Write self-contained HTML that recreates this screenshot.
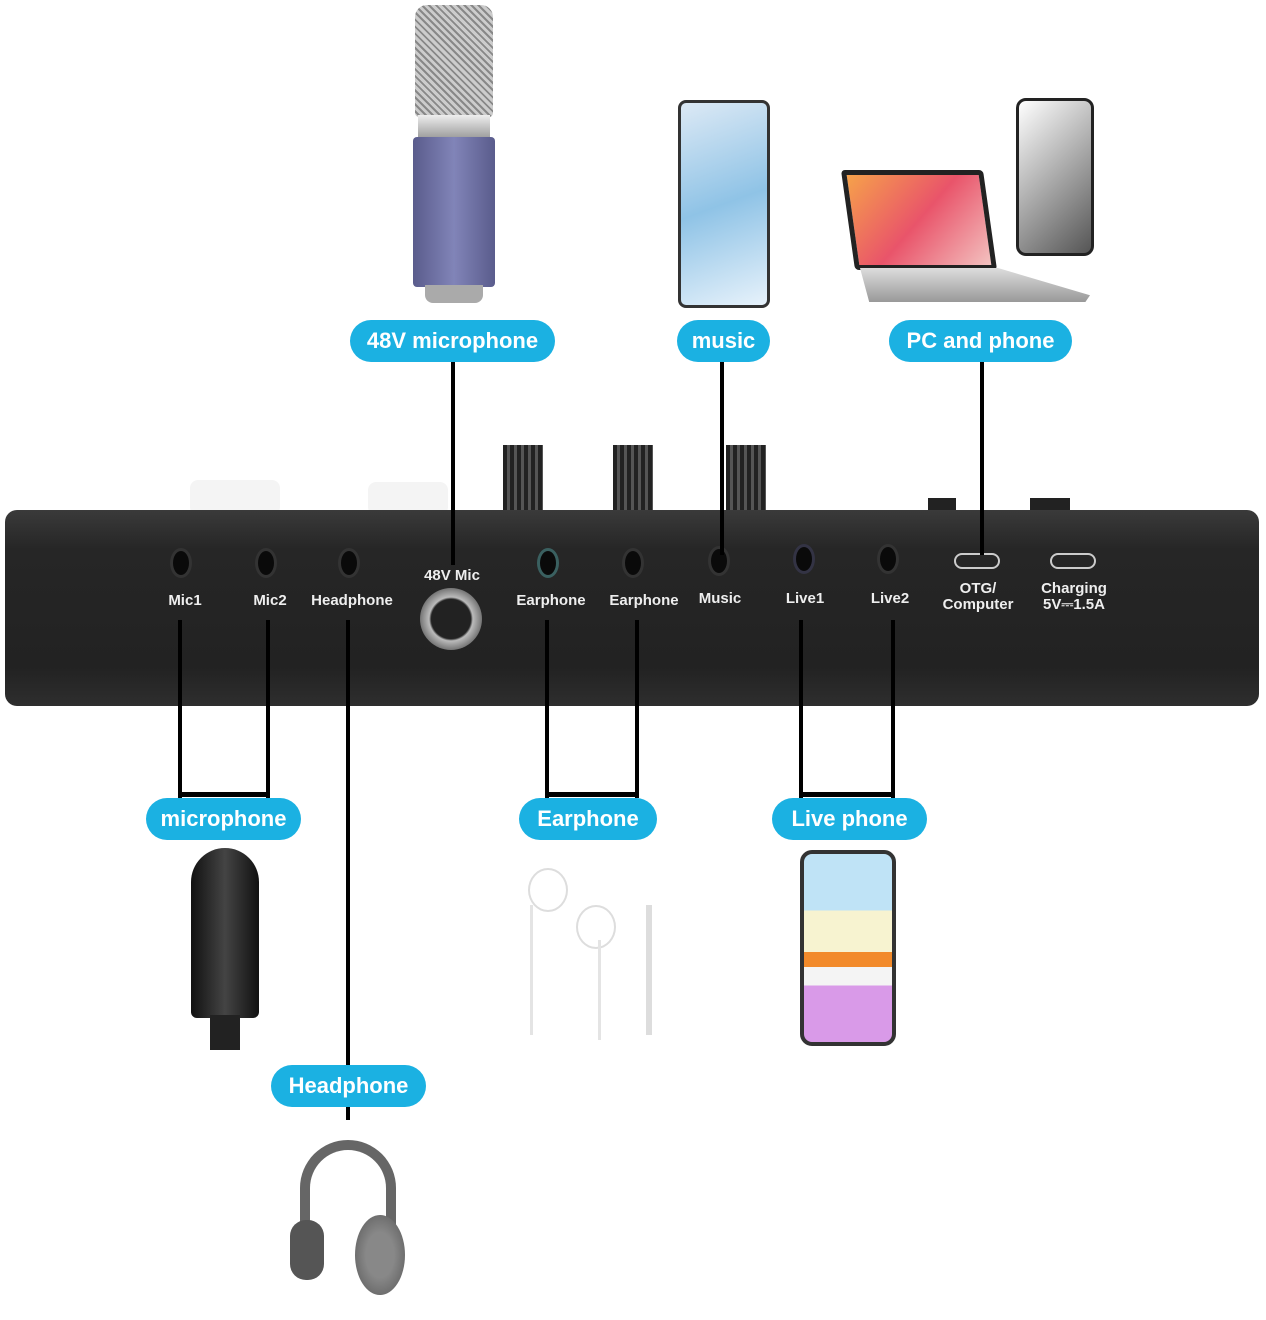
<!DOCTYPE html>
<html><head><style>
body{margin:0;width:1266px;height:1320px;background:#fff;position:relative;overflow:hidden;font-family:"Liberation Sans",sans-serif}
.a{position:absolute}
.pill{position:absolute;background:#1bb1e2;color:#fff;font-weight:bold;font-size:22px;border-radius:22px;height:42px;line-height:42px;text-align:center}
.l{position:absolute;background:#000}
.port{position:absolute;width:22px;height:30px;border-radius:50%;background:#0a0a0a;border:3px solid #333;box-sizing:border-box}
.lab{position:absolute;color:#eee;font-weight:bold;font-size:15px;text-align:center;line-height:16px}
</style></head><body>
<div class="a" style="left:415px;top:5px;width:78px;height:112px;background:repeating-linear-gradient(45deg,#ccc 0 3px,#888 3px 5px);border-radius:12px 12px 4px 4px"></div>
<div class="a" style="left:418px;top:115px;width:72px;height:24px;background:linear-gradient(#eee,#999)"></div>
<div class="a" style="left:413px;top:137px;width:82px;height:150px;background:linear-gradient(90deg,#5a5c8c,#8184b8,#5a5c8c);border-radius:4px"></div>
<div class="a" style="left:425px;top:285px;width:58px;height:18px;background:#aaa;border-radius:0 0 8px 8px"></div>
<div class="a" style="left:678px;top:100px;width:92px;height:208px;background:linear-gradient(160deg,#dce9f5,#8fc3e6 50%,#e7f2fb);border:3px solid #333;border-radius:8px;box-sizing:border-box"></div>
<div class="a" style="left:848px;top:170px;width:142px;height:100px;background:linear-gradient(135deg,#f6a24a,#e9546a,#f3c2c0);border:5px solid #222;border-radius:4px;transform:skewX(8deg);box-sizing:border-box"></div>
<div class="a" style="left:860px;top:268px;width:230px;height:34px;background:linear-gradient(#ddd,#999);clip-path:polygon(0 0,60% 0,100% 80%,98% 100%,4% 100%)"></div>
<div class="a" style="left:1016px;top:98px;width:78px;height:158px;background:linear-gradient(135deg,#fff,#555);border:3px solid #222;border-radius:10px;box-sizing:border-box"></div>
<div class="a" style="left:503px;top:445px;width:40px;height:70px;background:repeating-linear-gradient(90deg,#222 0 4px,#555 4px 7px)"></div>
<div class="a" style="left:613px;top:445px;width:40px;height:70px;background:repeating-linear-gradient(90deg,#222 0 4px,#555 4px 7px)"></div>
<div class="a" style="left:726px;top:445px;width:40px;height:70px;background:repeating-linear-gradient(90deg,#222 0 4px,#555 4px 7px)"></div>
<div class="a" style="left:190px;top:480px;width:90px;height:35px;background:#f4f4f4;border-radius:8px"></div>
<div class="a" style="left:368px;top:482px;width:80px;height:33px;background:#f4f4f4;border-radius:8px"></div>
<div class="a" style="left:928px;top:498px;width:28px;height:18px;background:#222"></div>
<div class="a" style="left:1030px;top:498px;width:40px;height:18px;background:#222"></div>
<div class="a" style="left:5px;top:510px;width:1254px;height:196px;background:linear-gradient(#3a3a3a,#262626 20%,#222 80%,#2e2e2e);border-radius:12px"></div>
<div class="port" style="left:170px;top:548px"></div>
<div class="port" style="left:255px;top:548px"></div>
<div class="port" style="left:338px;top:548px"></div>
<div class="port" style="left:537px;top:548px;border-color:#3a6060"></div>
<div class="port" style="left:622px;top:548px"></div>
<div class="port" style="left:708px;top:546px"></div>
<div class="port" style="left:793px;top:544px;border-color:#334"></div>
<div class="port" style="left:877px;top:544px"></div>
<div class="a" style="left:954px;top:553px;width:46px;height:16px;border:2px solid #ccc;border-radius:8px;box-sizing:border-box"></div>
<div class="a" style="left:1050px;top:553px;width:46px;height:16px;border:2px solid #ccc;border-radius:8px;box-sizing:border-box"></div>
<div class="a" style="left:420px;top:588px;width:62px;height:62px;border-radius:50%;background:radial-gradient(#222 45%,#bbb 50%,#777 70%,#ccc)"></div>
<div class="lab" style="left:150px;top:593px;width:70px">Mic1</div>
<div class="lab" style="left:235px;top:593px;width:70px">Mic2</div>
<div class="lab" style="left:300px;top:593px;width:104px">Headphone</div>
<div class="lab" style="left:410px;top:568px;width:84px">48V Mic</div>
<div class="lab" style="left:505px;top:593px;width:92px">Earphone</div>
<div class="lab" style="left:598px;top:593px;width:92px">Earphone</div>
<div class="lab" style="left:688px;top:591px;width:64px">Music</div>
<div class="lab" style="left:775px;top:591px;width:60px">Live1</div>
<div class="lab" style="left:860px;top:591px;width:60px">Live2</div>
<div class="lab" style="left:932px;top:581px;width:92px">OTG/<br>Computer</div>
<div class="lab" style="left:1026px;top:581px;width:96px">Charging<br>5V⎓1.5A</div>
<div class="l" style="left:451px;top:360px;width:4px;height:205px"></div>
<div class="l" style="left:720px;top:360px;width:4px;height:195px"></div>
<div class="l" style="left:980px;top:360px;width:4px;height:195px"></div>
<div class="l" style="left:178px;top:620px;width:4px;height:178px"></div>
<div class="l" style="left:266px;top:620px;width:4px;height:178px"></div>
<div class="l" style="left:178px;top:792px;width:92px;height:5px"></div>
<div class="l" style="left:346px;top:620px;width:4px;height:500px"></div>
<div class="l" style="left:545px;top:620px;width:4px;height:178px"></div>
<div class="l" style="left:635px;top:620px;width:4px;height:178px"></div>
<div class="l" style="left:545px;top:792px;width:94px;height:5px"></div>
<div class="l" style="left:799px;top:620px;width:4px;height:178px"></div>
<div class="l" style="left:891px;top:620px;width:4px;height:178px"></div>
<div class="l" style="left:799px;top:792px;width:96px;height:5px"></div>
<div class="pill" style="left:350px;top:320px;width:205px">48V microphone</div>
<div class="pill" style="left:677px;top:320px;width:93px">music</div>
<div class="pill" style="left:889px;top:320px;width:183px">PC and phone</div>
<div class="pill" style="left:146px;top:798px;width:155px">microphone</div>
<div class="pill" style="left:519px;top:798px;width:138px">Earphone</div>
<div class="pill" style="left:772px;top:798px;width:155px">Live phone</div>
<div class="pill" style="left:271px;top:1065px;width:155px">Headphone</div>
<div class="a" style="left:191px;top:848px;width:68px;height:170px;background:linear-gradient(90deg,#111,#444,#111);border-radius:34px 34px 6px 6px"></div>
<div class="a" style="left:210px;top:1015px;width:30px;height:35px;background:#222"></div>
<div class="a" style="left:528px;top:868px;width:36px;height:40px;border:2px solid #ddd;border-radius:50%"></div>
<div class="a" style="left:576px;top:905px;width:36px;height:40px;border:2px solid #ddd;border-radius:50%"></div>
<div class="a" style="left:530px;top:905px;width:3px;height:130px;background:#e4e4e4"></div>
<div class="a" style="left:598px;top:940px;width:3px;height:100px;background:#e4e4e4"></div>
<div class="a" style="left:646px;top:905px;width:6px;height:130px;background:#ddd"></div>
<div class="a" style="left:800px;top:850px;width:96px;height:196px;border:4px solid #333;border-radius:12px;box-sizing:border-box;background:linear-gradient(#bfe3f6 0 30%,#f7f3d0 30% 52%,#f28a2a 52% 60%,#f4f4f4 60% 70%,#d99ae8 70%)"></div>
<div class="a" style="left:300px;top:1140px;width:96px;height:110px;border:10px solid #666;border-bottom:none;border-radius:50px 50px 0 0;box-sizing:border-box"></div>
<div class="a" style="left:290px;top:1220px;width:34px;height:60px;background:#555;border-radius:16px"></div>
<div class="a" style="left:355px;top:1215px;width:50px;height:80px;background:radial-gradient(#888 40%,#555);border-radius:50%"></div>
</body></html>
